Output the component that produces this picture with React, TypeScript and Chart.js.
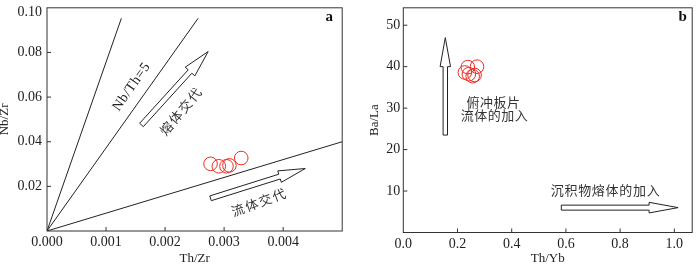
import { useEffect, useRef } from "react";
import { Chart, registerables } from "chart.js";

Chart.register(...registerables);

// ---------- Panel a : Nb/Zr vs Th/Zr ----------
const aThZr = [0.00277, 0.00291, 0.00304, 0.00309, 0.00329];
const aNbZr = [0.0301, 0.029, 0.029, 0.0294, 0.0327];
const aRefLineX = [
  [0, 0.00126],
  [0, 0.00256],
  [0, 0.005],
];
const aRefLineY = [
  [0, 0.0953],
  [0, 0.0953],
  [0, 0.04],
];
const aXTicks = [0, 0.001, 0.002, 0.003, 0.004];
const aYTicks = [0.02, 0.04, 0.06, 0.08, 0.1];
const aArrowTail = [
  [0.0016, 0.0475],
  [0.00277, 0.01465],
];
const aArrowTip = [
  [0.00273, 0.0804],
  [0.004375, 0.028],
];

// ---------- Panel b : Ba/La vs Th/Yb ----------
const bThYb = [0.272, 0.238, 0.227, 0.242, 0.256, 0.263];
const bBaLa = [40.0, 39.9, 38.6, 38.2, 37.7, 38.0];
const bXTicks = [0, 0.2, 0.4, 0.6, 0.8, 1.0];
const bYTicks = [10, 20, 30, 40, 50];
const bArrowTail = [
  [0.155, 23.5],
  [0.583, 6.0],
];
const bArrowTip = [
  [0.155, 47.0],
  [1.014, 6.0],
];

const SERIF = '"Liberation Serif", "Times New Roman", serif';
const CJK = '"Noto Sans CJK SC", sans-serif';

type Note = {
  text: string;
  x: number;
  y: number;
  angle: number;
  font: string;
  color: string;
  spacing: number;
};

interface PanelCfg {
  xMin: number;
  xMax: number;
  yMin: number;
  yMax: number;
  xTicks: number[];
  yTicks: number[];
  xFmt: (v: number) => string;
  yFmt: (v: number) => string;
  padding: { left: number; right: number; top: number; bottom: number };
  xTitle: string;
  yTitle: string;
  yTitleX: number;
  xTitleY: number;
  xLabelOffset: number;
  yLabelGap: number;
  letter: string;
  letterPos: [number, number];
  notes: Note[];
  arrowTail: number[][];
  arrowTip: number[][];
  arrowDims: { shaft: number; headLen: number; headHalf: number }[];
  lineX: number[][];
  lineY: number[][];
  px: number[];
  py: number[];
}

const panelA: PanelCfg = {
  xMin: 0,
  xMax: 0.005,
  yMin: 0,
  yMax: 0.1,
  xTicks: aXTicks,
  yTicks: aYTicks,
  xFmt: (v) => v.toFixed(3),
  yFmt: (v) => v.toFixed(2),
  padding: { left: 47, right: 6, top: 1, bottom: 34 },
  xTitle: "Th/Zr",
  yTitle: "Nb/Zr",
  yTitleX: 5,
  xTitleY: 259,
  xLabelOffset: 11.5,
  yLabelGap: 5,
  letter: "a",
  letterPos: [0.00478, 0.0957],
  notes: [
    { text: "Nb/Th=5", x: 0.00143, y: 0.0645, angle: -55, font: `14px ${SERIF}`, color: "#222", spacing: 0.6 },
    { text: "熔体交代", x: 0.00226, y: 0.0535, angle: -50, font: `13px ${CJK}`, color: "#333", spacing: 1.5 },
    { text: "流体交代", x: 0.00358, y: 0.0128, angle: -20, font: `13px ${CJK}`, color: "#333", spacing: 1.5 },
  ],
  arrowTail: aArrowTail,
  arrowTip: aArrowTip,
  arrowDims: [
    { shaft: 2.5, headLen: 27, headHalf: 6.5 },
    { shaft: 2.5, headLen: 27, headHalf: 6 },
  ],
  lineX: aRefLineX,
  lineY: aRefLineY,
  px: aThZr,
  py: aNbZr,
};

const panelB: PanelCfg = {
  xMin: 0,
  xMax: 1.066,
  yMin: 0,
  yMax: 54.2,
  xTicks: bXTicks,
  yTicks: bYTicks,
  xFmt: (v) => v.toFixed(1),
  yFmt: (v) => String(Math.round(v)),
  padding: { left: 53.3, right: 2.3, top: 1, bottom: 32.5 },
  xTitle: "Th/Yb",
  yTitle: "Ba/La",
  yTitleX: 25,
  xTitleY: 259,
  xLabelOffset: 11.5,
  yLabelGap: 3,
  letter: "b",
  letterPos: [1.031, 51.9],
  notes: [
    { text: "俯冲板片", x: 0.332, y: 31.5, angle: 0, font: `13px ${CJK}`, color: "#333", spacing: 0.5 },
    { text: "流体的加入", x: 0.336, y: 28.3, angle: 0, font: `13px ${CJK}`, color: "#333", spacing: 0.5 },
    { text: "沉积物熔体的加入", x: 0.745, y: 10.2, angle: 0, font: `13px ${CJK}`, color: "#333", spacing: 0.7 },
  ],
  arrowTail: bArrowTail,
  arrowTip: bArrowTip,
  arrowDims: [
    { shaft: 2.2, headLen: 29, headHalf: 5.2 },
    { shaft: 2.5, headLen: 29, headHalf: 5.3 },
  ],
  lineX: [],
  lineY: [],
  px: bThYb,
  py: bBaLa,
};

function drawArrow(
  ctx: CanvasRenderingContext2D,
  x0: number,
  y0: number,
  x1: number,
  y1: number,
  s: number,
  headLen: number,
  h: number
) {
  const dx = x1 - x0;
  const dy = y1 - y0;
  const L = Math.hypot(dx, dy);
  const ux = dx / L;
  const uy = dy / L;
  const nx = -uy;
  const ny = ux;
  const bx = x1 - ux * headLen;
  const by = y1 - uy * headLen;
  const pts = [
    [x0 + nx * s, y0 + ny * s],
    [bx + nx * s, by + ny * s],
    [bx + nx * h, by + ny * h],
    [x1, y1],
    [bx - nx * h, by - ny * h],
    [bx - nx * s, by - ny * s],
    [x0 - nx * s, y0 - ny * s],
  ];
  ctx.beginPath();
  pts.forEach(([px, py], i) => (i === 0 ? ctx.moveTo(px, py) : ctx.lineTo(px, py)));
  ctx.closePath();
  ctx.fillStyle = "#fff";
  ctx.fill();
  ctx.strokeStyle = "#222";
  ctx.lineWidth = 1;
  ctx.stroke();
}

function makeDecor(cfg: PanelCfg) {
  return {
    id: "decor",
    afterDraw(chart: any) {
      const ctx: CanvasRenderingContext2D = chart.ctx;
      const xs = chart.scales.x;
      const ys = chart.scales.y;
      const { left, right, top, bottom } = chart.chartArea;
      ctx.save();

      // frame
      ctx.strokeStyle = "#333";
      ctx.lineWidth = 1;
      ctx.strokeRect(left, top, right - left, bottom - top);

      // ticks (inward) and labels
      ctx.fillStyle = "#222";
      ctx.font = `14px ${SERIF}`;
      ctx.textAlign = "center";
      ctx.textBaseline = "middle";
      cfg.xTicks.forEach((v) => {
        const p = xs.getPixelForValue(v);
        if (v !== cfg.xMin) {
          ctx.beginPath();
          ctx.moveTo(p, bottom);
          ctx.lineTo(p, bottom - 4);
          ctx.stroke();
        }
        ctx.fillText(cfg.xFmt(v), p, bottom + cfg.xLabelOffset);
      });
      ctx.textAlign = "right";
      cfg.yTicks.forEach((v) => {
        const p = ys.getPixelForValue(v);
        if (v !== cfg.yMax) {
          ctx.beginPath();
          ctx.moveTo(left, p);
          ctx.lineTo(left + 4, p);
          ctx.stroke();
        }
        ctx.fillText(cfg.yFmt(v), left - cfg.yLabelGap, Math.max(p, top + 4.5));
      });

      // axis titles
      ctx.font = `13px ${SERIF}`;
      ctx.textAlign = "center";
      ctx.fillText(cfg.xTitle, (left + right) / 2, cfg.xTitleY);
      ctx.save();
      ctx.translate(cfg.yTitleX, (top + bottom) / 2);
      ctx.rotate(-Math.PI / 2);
      ctx.fillText(cfg.yTitle, 0, 0);
      ctx.restore();

      // panel letter
      ctx.font = `bold 15px ${SERIF}`;
      ctx.fillStyle = "#111";
      ctx.fillText(cfg.letter, xs.getPixelForValue(cfg.letterPos[0]), ys.getPixelForValue(cfg.letterPos[1]));

      // arrows
      cfg.arrowTail.forEach((t, i) => {
        const tip = cfg.arrowTip[i];
        const d = cfg.arrowDims[i];
        drawArrow(
          ctx,
          xs.getPixelForValue(t[0]),
          ys.getPixelForValue(t[1]),
          xs.getPixelForValue(tip[0]),
          ys.getPixelForValue(tip[1]),
          d.shaft,
          d.headLen,
          d.headHalf
        );
      });

      // notes
      cfg.notes.forEach((n) => {
        ctx.save();
        ctx.translate(xs.getPixelForValue(n.x), ys.getPixelForValue(n.y));
        ctx.rotate((n.angle * Math.PI) / 180);
        ctx.font = n.font;
        (ctx as any).letterSpacing = `${n.spacing}px`;
        ctx.fillStyle = n.color;
        ctx.textAlign = "center";
        ctx.textBaseline = "middle";
        ctx.fillText(n.text, n.spacing / 2, 0);
        (ctx as any).letterSpacing = "0px";
        ctx.restore();
      });

      ctx.restore();
    },
  };
}

function Panel({ cfg, left }: { cfg: PanelCfg; left: number }) {
  const ref = useRef<HTMLCanvasElement>(null);
  useEffect(() => {
    const lineSets = cfg.lineX.map((xs, i) => ({
      type: "scatter" as const,
      data: xs.map((x, j) => ({ x, y: cfg.lineY[i][j] })),
      showLine: true,
      borderColor: "#222",
      borderWidth: 1,
      pointRadius: 0,
      fill: false,
    }));
    const pointSet = {
      type: "scatter" as const,
      data: cfg.px.map((x, i) => ({ x, y: cfg.py[i] })),
      showLine: false,
      pointRadius: 6.8,
      pointStyle: "circle",
      pointBorderColor: "#ee2b22",
      pointBackgroundColor: "rgba(0,0,0,0)",
      pointBorderWidth: 1,
      clip: false as any,
    };
    const chart = new Chart(ref.current!, {
      type: "scatter",
      data: { datasets: [...lineSets, pointSet] as any },
      options: {
        animation: false,
        responsive: false,
        devicePixelRatio: 1,
        events: [],
        layout: { padding: cfg.padding },
        plugins: { legend: { display: false }, tooltip: { enabled: false } },
        scales: {
          x: { type: "linear", display: false, min: cfg.xMin, max: cfg.xMax },
          y: { type: "linear", display: false, min: cfg.yMin, max: cfg.yMax },
        },
      },
      plugins: [makeDecor(cfg)],
    });
    return () => chart.destroy();
  }, [cfg]);
  return (
    <canvas
      ref={ref}
      width={350}
      height={265}
      style={{ position: "absolute", left, top: 0, width: 350, height: 265 }}
    />
  );
}

export default function App() {
  return (
    <div
      style={{
        position: "absolute",
        left: 0,
        top: 0,
        width: 700,
        height: 265,
        background: "#fff",
        overflow: "hidden",
      }}
    >
      <Panel cfg={panelA} left={0} />
      <Panel cfg={panelB} left={350} />
    </div>
  );
}
